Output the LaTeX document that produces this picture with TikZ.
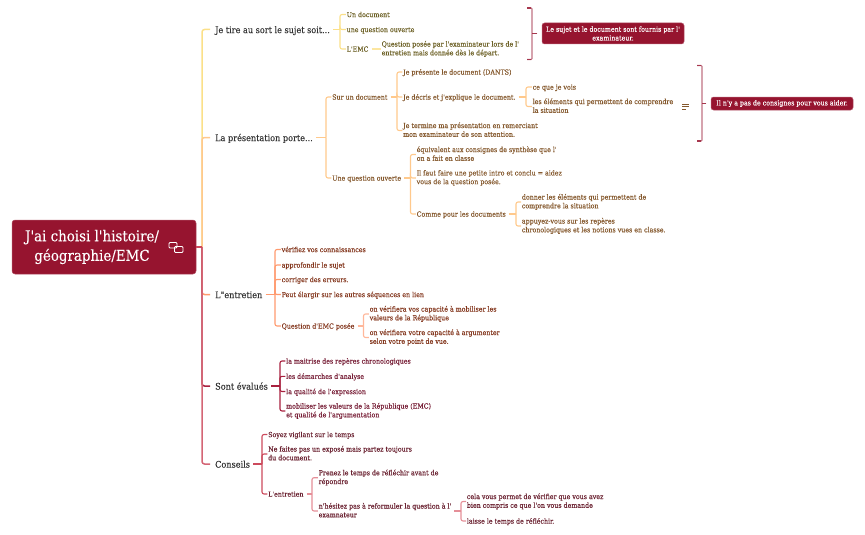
\documentclass[tikz,border=0pt]{standalone}
\usepackage{fontspec}
\setmainfont{DejaVu Serif Condensed}[Ligatures=TeXOff,FakeBold=0.05]
\usetikzlibrary{calc}
\definecolor{rootred}{HTML}{96142F}
\definecolor{ta}{HTML}{6E6228}\definecolor{la}{HTML}{FBE088}
\definecolor{tb}{HTML}{85592E}\definecolor{lb}{HTML}{FFC98C}
\definecolor{tc}{HTML}{84381F}\definecolor{lc}{HTML}{FF9A6E}\definecolor{lcc}{HTML}{FFB79A}
\definecolor{td}{HTML}{782038}\definecolor{ld}{HTML}{A8213F}
\definecolor{te}{HTML}{6C2433}\definecolor{le}{HTML}{CC4A5C}\definecolor{lee}{HTML}{E58F98}
\newcommand{\mystrut}{\rule[-.2\baselineskip]{0pt}{\baselineskip}}
\tikzset{
 x=1pt,y=-1pt,
 base/.style={anchor=west,inner sep=0pt,align=left,execute at begin node=\mystrut,execute at end node=\mystrut},
 topic/.style={base,text=black!80,font=\fontsize{9.05}{12}\selectfont},
 sub/.style={base,font=\fontsize{7}{8.75}\selectfont},
 suba/.style={sub,text=ta},subb/.style={sub,text=tb},subc/.style={sub,text=tc},subd/.style={sub,text=td},sube/.style={sub,text=te},
 summary/.style={draw=rootred!70!white,line width=.5pt,fill=rootred,rounded corners=2.5pt,text=white,align=center,inner sep=0pt,font=\fontsize{7}{8.75}\selectfont,minimum height=13pt},
 conn/.style={line width=1.1pt,rounded corners=2pt},
 spine/.style={line width=1.5pt,rounded corners=2.5pt},
 bracket/.style={line width=1.1pt,rounded corners=.8pt},
}
\newcommand{\fork}[4]{%
 \coordinate (#1-s) at (#1.east -| #2,0);
 \draw[conn,#3,shorten <=3pt] (#1.east) -- (#1-s);
 \foreach \kid in {#4}{\draw[conn,#3] (#1-s) |- ($(\kid.west)+(-.6,0)$);}
}
\begin{document}
\begin{tikzpicture}
\useasboundingbox (0,0) rectangle (865,535);
% root
\node[draw=rootred!75!white,line width=.5pt,fill=rootred,rounded corners=3pt,minimum width=184pt,minimum height=54pt,inner sep=0pt] (root) at (104,247) {};
\node[text=white,align=center,inner sep=0pt,font=\fontsize{14.9}{19.5}\selectfont] (roottext) at (92,247) {J'ai choisi l'histoire/\\géographie/EMC};
% link icon
\draw[white,line width=.8pt,rounded corners=1pt] (169,242.5) rectangle (177,248);
\draw[white,line width=.8pt,rounded corners=1pt] (174.5,246.5) rectangle (183,252.5);
% topics
\node[topic] (t1) at (215,29.5) {Je tire au sort le sujet soit...};
\node[topic] (t2) at (215,137.5) {La présentation porte...};
\node[topic] (t3) at (215,294.5) {L"entretien};
\node[topic] (t4) at (215,386) {Sont évalués};
\node[topic] (t5) at (215,464) {Conseils};
\coordinate (rs) at (root.east -| 202,0);
\draw[spine,la,shorten >=5pt] (rs) |- (t1.west);
\draw[spine,lb,shorten >=5pt] (rs) |- (t2.west);
\draw[spine,lc,shorten >=5pt] (rs) |- (t3.west);
\draw[spine,ld,shorten >=5pt] (rs) |- (t4.west);
\draw[spine,le!85!white,shorten >=5pt] (rs) |- (t5.west);
\draw[spine,le] (root.east) -- (rs);
% branch 1
\node[suba] (a1) at (346.5,14.5) {Un document};
\node[suba] (a2) at (346.5,29.5) {une question ouverte};
\node[suba] (a3) at (346.5,49) {L'EMC};
\node[suba] (a4) at (381.5,49) {Question posée par l'examinateur lors de l'\\entretien mais donnée dès le départ.};
\fork{t1}{340}{la}{a1,a2,a3}
\draw[conn,la!80!white,shorten <=3pt,shorten >=1pt] (a3.east) -- (a4.west);
% branch 2
\node[subb] (b1) at (332,97) {Sur un document};
\node[subb] (b2) at (332,178) {Une question ouverte};
\fork{t2}{326}{lb}{b1,b2}
\node[subb] (b11) at (403,72) {Je présente le document (DANTS)};
\node[subb] (b12) at (403,97) {Je décris et j'explique le document.};
\node[subb] (b13) at (403,130.5) {Je termine ma présentation en remerciant\\mon examinateur de son attention.};
\fork{b1}{397}{lb}{b11,b12,b13}
\node[subb] (b121) at (532.5,87) {ce que je vois};
\node[subb] (b122) at (532.5,106.5) {les éléments qui permettent de comprendre\\la situation};
\fork{b12}{526}{lb}{b121,b122}
\node[subb] (b21) at (416.5,154.5) {équivalent aux consignes de synthèse que l'\\on a fait en classe};
\node[subb] (b22) at (416.5,178) {Il faut faire une petite intro et conclu = aidez\\vous de la question posée.};
\node[subb] (b23) at (416.5,214) {Comme pour les documents};
\fork{b2}{410.5}{lb}{b21,b22,b23}
\node[subb] (b231) at (521.7,202) {donner les éléments qui permettent de\\comprendre la situation};
\node[subb] (b232) at (521.7,226) {appuyez-vous sur les repères\\chronologiques et les notions vues en classe.};
\fork{b23}{516}{lb}{b231,b232}
% note icon
\draw[tb,line width=.6pt] (682,104.5) -- (688.5,104.5) (682,106.7) -- (688.5,106.7) (682,108.9) -- (686,108.9);
% branch 3
\node[subc] (c1) at (281.5,249.5) {vérifiez vos connaissances};
\node[subc] (c2) at (281.5,265) {approfondir le sujet};
\node[subc] (c3) at (281.5,279.5) {corriger des erreurs.};
\node[subc] (c4) at (281.5,294.5) {Peut élargir sur les autres séquences en lien};
\node[subc] (c5) at (281.5,326) {Question d'EMC posée};
\fork{t3}{275}{lc}{c1,c2,c3,c4,c5}
\node[subc] (c51) at (369.5,314) {on vérifiera vos capacité à mobiliser les\\valeurs de la République};
\node[subc] (c52) at (369.5,337.5) {on vérifiera votre capacité à argumenter\\selon votre point de vue.};
\fork{c5}{363.5}{lcc}{c51,c52}
% branch 4
\node[subd] (d1) at (286,361) {la maitrise des repères chronologiques};
\node[subd] (d2) at (286,376.3) {les démarches d'analyse};
\node[subd] (d3) at (286,391.5) {la qualité de l'expression};
\node[subd] (d4) at (286,411) {mobiliser les valeurs de la République (EMC)\\et qualité de l'argumentation};
\fork{t4}{280}{ld}{d1,d2,d3,d4}
% branch 5
\node[sube] (e1) at (268,434.5) {Soyez vigilant sur le temps};
\node[sube] (e2) at (268,454) {Ne faites pas un exposé mais partez toujours\\du document.};
\node[sube] (e3) at (268,494) {L'entretien};
\fork{t5}{262}{le}{e1,e2,e3}
\node[sube] (e31) at (318.5,477.7) {Prenez le temps de réfléchir avant de\\répondre};
\node[sube] (e32) at (318.5,511) {n'hésitez pas à reformuler la question à l'\\examnateur};
\fork{e3}{312}{lee}{e31,e32}
\node[sube] (e321) at (466.7,501.5) {cela vous permet de vérifier que vous avez\\bien compris ce que l'on vous demande};
\node[sube] (e322) at (466.7,521) {laisse le temps de réfléchir.};
\fork{e32}{461}{lee}{e321,e322}
% summaries
\node[summary,minimum width=142pt,minimum height=21pt] (s1) at (613,33.5) {Le sujet et le document sont fournis par l'\\examinateur.};
\node[summary,minimum width=142pt] (s2) at (782,103.5) {Il n'y a pas de consignes pour vous aider.};
\coordinate (s1a) at (527,8);\coordinate (s1b) at (527,59.5);
\coordinate (s2a) at (697,65.5);\coordinate (s2b) at (697,141);
\draw[bracket,rootred!60!white] (s1a) -- ++(5,0) -- ($(s1b)+(5,0)$) -- (s1b);
\draw[bracket,rootred!85!white] (s1a) -- ++(3.5,0) (s1b) -- ++(3.5,0);
\draw[conn,rootred!85!white,shorten <=4.5pt] (s1.west) -- (532,33.5);
\draw[bracket,rootred!60!white] (s2a) -- ++(5,0) -- ($(s2b)+(5,0)$) -- (s2b);
\draw[bracket,rootred!85!white] (s2a) -- ++(3.5,0) (s2b) -- ++(3.5,0);
\draw[conn,rootred!85!white,shorten <=4.5pt] (s2.west) -- (702,103.5);
\end{tikzpicture}
\end{document}
